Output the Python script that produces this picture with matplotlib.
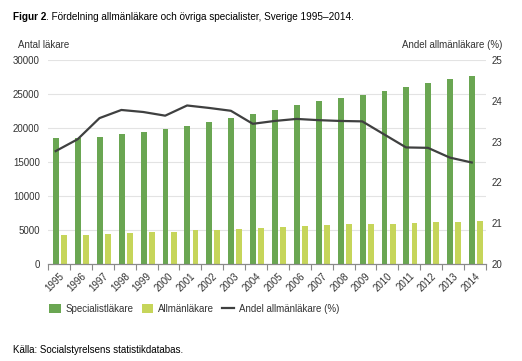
import matplotlib.pyplot as plt
import numpy as np

plt.rcParams["font.family"] = ["Liberation Sans", "DejaVu Sans"]

years = [str(y) for y in range(1995, 2015)]
specialist = [18510, 18600, 18660, 19100, 19400, 19840, 20370, 20960, 21500, 22140,
              22690, 23380, 24060, 24410, 24940, 25440, 26030, 26620, 27260, 27740]
allman = [4250, 4300, 4440, 4590, 4690, 4740, 4940, 5030, 5130, 5280,
          5380, 5530, 5720, 5820, 5920, 5920, 6020, 6120, 6210, 6310]
andel = [22.77, 23.06, 23.58, 23.78, 23.73, 23.64, 23.89, 23.83, 23.76, 23.44,
         23.51, 23.56, 23.53, 23.51, 23.50, 23.18, 22.86, 22.85, 22.61, 22.49]

GREEN = "#6aa652"
LIME = "#c6d55a"
LINE = "#3f4040"
GRID = "#e3e3e3"
TXT = "#333333"

fig = plt.figure(figsize=(5.22, 3.61), dpi=100)
ax = fig.add_axes([0.092, 0.269, 0.839, 0.564])
ax2 = ax.twinx()

x = np.arange(len(years))
w = 0.27
ax.bar(x - 0.135, specialist, w, color=GREEN, zorder=2, label="Specialistläkare")
ax.bar(x + 0.235, allman, w, color=LIME, zorder=2, label="Allmänläkare")
ax2.plot(x - 0.15, andel, color=LINE, lw=1.6, label="Andel allmänläkare (%)")

ax.set_xlim(-0.5, len(years) - 0.5)
ax.set_ylim(0, 30000)
ax.set_yticks(range(0, 30001, 5000))
ax2.set_ylim(20, 25)
ax2.set_yticks(range(20, 26))
ax.yaxis.grid(True, color=GRID, lw=0.8, zorder=0)
ax.set_axisbelow(True)

for a in (ax, ax2):
    for s in ("top", "left", "right"):
        a.spines[s].set_visible(False)
    a.spines["bottom"].set_color("#8a8a8a")
    a.spines["bottom"].set_linewidth(0.8)

ax.tick_params(axis="y", length=0, labelsize=7, labelcolor=TXT, pad=6)
ax2.tick_params(axis="y", length=0, labelsize=7, labelcolor=TXT, pad=4)

ax.set_xticks(x)
ax.set_xticklabels(years, rotation=45, ha="right", rotation_mode="anchor",
                   fontsize=7, color=TXT)
ax.set_xticks(np.arange(-0.5, len(years)), minor=True)
ax.tick_params(axis="x", which="major", length=0, pad=5)
ax.tick_params(axis="x", which="minor", length=4, color="#8a8a8a", width=0.8)

# title: bold lead-in followed by normal text
t = fig.text(0.025, 0.953, "Figur 2", fontsize=7.2, fontweight="bold", va="center")
ax.annotate(". Fördelning allmänläkare och övriga specialister, Sverige 1995–2014.",
            xy=(1, 0.5), xycoords=t, va="center", ha="left", fontsize=7.2,
            annotation_clip=False)
fig.text(0.035, 0.875, "Antal läkare", fontsize=7, color=TXT, va="center")
fig.text(0.962, 0.875, "Andel allmänläkare (%)", fontsize=7, color=TXT, va="center", ha="right")
fig.text(0.025, 0.03, "Källa: Socialstyrelsens statistikdatabas.", fontsize=7, va="center")

h1, l1 = ax.get_legend_handles_labels()
h2, l2 = ax2.get_legend_handles_labels()
fig.legend(h1 + h2, l1 + l2, loc="center left", bbox_to_anchor=(0.078, 0.145), ncol=3,
           frameon=False, fontsize=7, handlelength=1.2, handleheight=1.0,
           columnspacing=0.8, handletextpad=0.5, labelcolor=TXT)

fig.savefig("out.png", dpi=100)
